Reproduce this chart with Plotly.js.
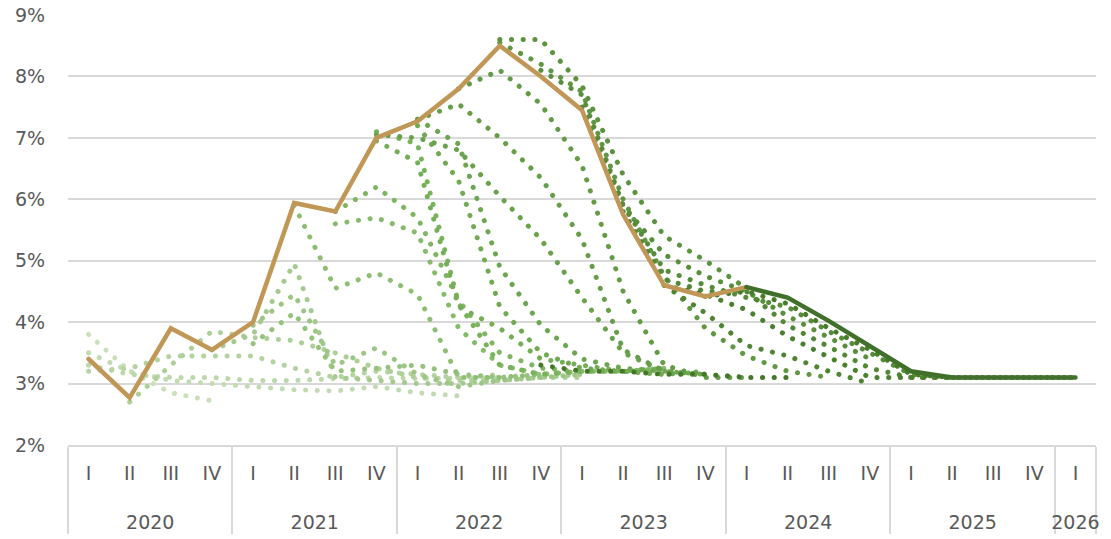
<!DOCTYPE html>
<html>
<head>
<meta charset="utf-8">
<script src="https://cdn.plot.ly/plotly-3.0.1.min.js"></script>
<style>
html,body{margin:0;padding:0;background:#fff;}
#chart{width:1111px;height:539px;}
.scatterlayer .js-line{stroke-linecap:round;}
</style>
</head>
<body>
<div id="chart"></div>
<script>
// Axis categories (quarter + year)
const yearLabels = ['2020','2020','2020','2020','2021','2021','2021','2021','2022','2022','2022','2022',
  '2023','2023','2023','2023','2024','2024','2024','2024','2025','2025','2025','2025','2026'];
const quarterLabels = ['I','II','III','IV','I','II','III','IV','I','II','III','IV',
  'I','II','III','IV','I','II','III','IV','I','II','III','IV','I'];

// Actual values (2020 I .. 2024 I)
const actualStart = '2020 I';
const actual = [3.4, 2.77, 3.9, 3.55, 4.0, 5.94, 5.8, 7.0, 7.27, 7.8, 8.5, 8.0, 7.45, 5.75, 4.6, 4.42, 4.57];

// Latest forecast (2024 I .. 2026 I)
const latestStart = '2024 I';
const latest = [4.57, 4.4, 4.02, 3.62, 3.2, 3.1, 3.1, 3.1, 3.1];

// Earlier forecast vintages (oldest -> newest): start quarter and values
const fcStart = ['2020 I','2020 I','2020 I','2020 I','2020 II','2020 IV','2021 I','2021 I','2021 II',
  '2021 III','2021 III','2021 IV','2021 IV','2022 I','2022 I','2021 IV','2022 I','2022 II',
  '2022 III','2022 III','2022 IV','2023 I','2023 II','2023 III','2023 III','2023 IV','2022 IV'];
const fc01 = [3.8, 3.2, 2.85, 2.72];
const fc02 = [3.5, 3.2, 3.05, 3.0, 2.95, 2.9, 2.88, 2.95, 2.85, 2.8];
const fc03 = [3.3, 3.15, 3.1, 3.1, 3.05, 3.05, 3.08, 3.1, 3.08, 3.1, 3.1];
const fc04 = [3.2, 3.25, 3.45, 3.45, 3.45, 3.25, 3.1, 3.2, 3.15, 3.1, 3.15];
const fc05 = [2.7, 3.3, 3.85, 3.75, 3.7, 3.5, 3.25, 3.1, 3.05, 3.05, 3.1, 3.1];
const fc06 = [3.55, 3.8, 4.95, 3.1, 3.05, 3.0, 3.0, 3.05, 3.1, 3.15];
const fc07 = [3.95, 4.45, 3.3, 3.58, 3.15, 2.95, 3.05, 3.1, 3.15];
const fc08 = [3.65, 4.15, 3.2, 3.25, 3.3, 3.15, 3.1, 3.15];
const fc09 = [5.9, 4.55, 4.8, 4.45, 3.1, 3.1, 3.15, 3.2];
const fc10 = [5.6, 5.7, 5.45, 3.9, 3.3, 3.15, 3.2, 3.2, 3.25];
const fc11 = [5.8, 6.2, 5.7, 4.35, 3.5, 3.25, 3.2, 3.2, 3.25];
const fc12 = [7.1, 6.9, 4.3, 3.3, 3.15, 3.2, 3.2, 3.15];
const fc13 = [6.95, 6.6, 4.25, 3.9, 3.4, 3.3, 3.2, 3.25];
const fc14 = [7.2, 6.3, 4.25, 3.5, 3.25, 3.2, 3.15, 3.2];
const fc15 = [7.3, 6.9, 4.9, 3.95, 3.4, 3.25, 3.2, 3.15];
const fc16 = [7.05, 7.0, 6.8, 6.05, 5.35, 4.4, 3.5, 3.2, 3.15];
const fc17 = [7.3, 7.55, 7.0, 6.35, 5.35, 3.55, 3.2, 3.15, 3.1];
const fc18 = [7.8, 8.1, 7.55, 6.55, 4.5, 3.3, 3.1, 3.1];
const fc19 = [8.55, 8.2, 7.75, 6.0, 4.75, 3.9, 3.45, 3.2, 3.1];
const fc20 = [8.6, 8.6, 7.85, 6.4, 5.4, 5.0, 4.55];
const fc21 = [8.1, 7.7, 5.9, 5.1, 4.75, 4.5, 4.1, 3.75, 3.4];
const fc22 = [7.5, 5.9, 4.85, 4.6, 4.4, 4.25, 3.85, 3.5, 3.15, 3.1];
const fc23 = [5.8, 4.7, 4.5, 4.5, 3.95, 3.6, 3.25, 3.1, 3.1];
const fc24 = [4.6, 4.15, 3.62, 3.45, 3.2, 3.0];
const fc25 = [4.6, 4.45, 4.2, 3.77, 3.43, 3.1, 3.1, 3.1, 3.1, 3.1, 3.1];
const fc26 = [4.42, 4.5, 4.3, 3.9, 3.55, 3.15, 3.1, 3.1, 3.1, 3.1];
const fc27 = [3.3, 3.2, 3.2, 3.15, 3.15, 3.1, 3.1];
const forecasts = [fc01,fc02,fc03,fc04,fc05,fc06,fc07,fc08,fc09,fc10,fc11,fc12,fc13,fc14,
  fc15,fc16,fc17,fc18,fc19,fc20,fc21,fc22,fc23,fc24,fc25,fc26,fc27];

// ---- styling / helpers ----
// quarter labels get an empty second line so the year row sits lower, as in the reference
const quarterTick = quarterLabels.map(q => q + '<br>\u00a0');
const keys = yearLabels.map((y, i) => y + ' ' + quarterLabels[i]);
function xFor(startLabel, n) {
  const st = keys.indexOf(startLabel);
  return [yearLabels.slice(st, st + n), quarterTick.slice(st, st + n)];
}
function lerp(a, b, t) { return a.map((v, i) => Math.round(v + (b[i] - v) * t)); }
const cLight = [203, 223, 188], cMid = [120, 178, 90], cDark = [68, 120, 40];
function fcColor(i, n) {
  const t = i / (n - 1);
  const c = t < 0.42 ? lerp(cLight, cMid, t / 0.42) : lerp(cMid, cDark, (t - 0.42) / 0.58);
  return 'rgb(' + c.join(',') + ')';
}

const traces = [];
// invisible full-range trace to fix category order
traces.push({x: [yearLabels, quarterTick], y: quarterLabels.map(() => null), mode: 'none',
  type: 'scatter', showlegend: false, hoverinfo: 'skip'});
forecasts.forEach((vals, i) => {
  traces.push({
    type: 'scatter', mode: 'lines', x: xFor(fcStart[i], vals.length), y: vals,
    line: {color: fcColor(i, forecasts.length), width: 5, dash: '0.1px,11.6px'},
    showlegend: false, hoverinfo: 'skip'
  });
});
traces.push({type: 'scatter', mode: 'lines', x: xFor(actualStart, actual.length), y: actual,
  line: {color: '#c09756', width: 4.5}, showlegend: false});
traces.push({type: 'scatter', mode: 'lines', x: xFor(latestStart, latest.length), y: latest,
  line: {color: '#41702a', width: 4.5}, showlegend: false});

const tickFont = {family: 'DejaVu Sans, sans-serif', size: 19, color: '#595959'};
const layout = {
  width: 1111, height: 539,
  margin: {l: 68, r: 15, t: 15, b: 94},
  paper_bgcolor: '#ffffff', plot_bgcolor: '#ffffff',
  showlegend: false,
  xaxis: {
    type: 'multicategory', range: [-0.5, 24.5],
    showgrid: false, zeroline: false,
    showline: true, linecolor: '#d9d9d9', linewidth: 2,
    showdividers: true, dividercolor: '#d9d9d9', dividerwidth: 2,
    tickson: 'labels', ticks: 'outside', ticklen: 10, tickcolor: 'rgba(0,0,0,0)',
    tickfont: tickFont
  },
  yaxis: {
    range: [2, 9], dtick: 1, ticksuffix: '%',
    showgrid: true, gridcolor: '#d9d9d9', gridwidth: 2,
    zeroline: false, showline: false,
    ticks: 'outside', ticklen: 18, tickcolor: 'rgba(0,0,0,0)',
    tickfont: tickFont
  }
};
Plotly.newPlot('chart', traces, layout, {staticPlot: true, displayModeBar: false});
</script>
</body>
</html>
